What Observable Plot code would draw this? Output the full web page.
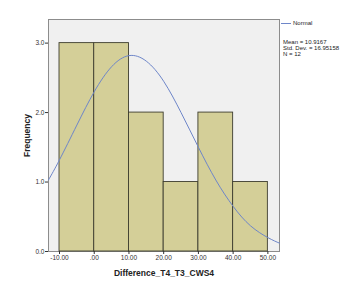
<!DOCTYPE html>
<html><head><meta charset="utf-8">
<script src="https://cdn.jsdelivr.net/npm/d3@7"></script>
<script src="https://cdn.jsdelivr.net/npm/@observablehq/plot@0.6"></script>
<style>
body{margin:0;background:#fff;font-family:"Liberation Sans",Arial,sans-serif;}
#wrap{position:relative;width:347px;height:282px;}
.lg{position:absolute;font-size:6px;color:#222;line-height:5.8px;white-space:nowrap;}
</style></head><body>
<div id="wrap"></div>
<script>
// Histogram bins and counts
const binStart = [-10, 0, 10, 20, 30, 40];
const binEnd   = [0, 10, 20, 30, 40, 50];
const counts   = [3, 3, 2, 1, 2, 1];
// Normal curve
const curveX = [-13.17, -10, -5, 0, 5, 10, 15, 20, 25, 30, 35, 40, 45, 50, 53.35];
const curveY = [1.03, 1.32, 1.82, 2.30, 2.66, 2.82, 2.74, 2.45, 2.00, 1.50, 1.03, 0.65, 0.37, 0.20, 0.12];
const xTicks = [-10, 0, 10, 20, 30, 40, 50];
const xTickLabels = ["-10.00", ".00", "10.00", "20.00", "30.00", "40.00", "50.00"];
const yTicks = [0, 1, 2, 3];
const yTickLabels = ["0.0", "1.0", "2.0", "3.0"];
const statsLines = ["Mean = 10.9167", "Std. Dev. = 16.95158", "N = 12"];

const bins = binStart.map((s, i) => ({x1: s, x2: binEnd[i], y: counts[i]}));
const curve = curveX.map((x, i) => ({x, y: curveY[i]}));

const plot = Plot.plot({
  width: 347, height: 282,
  marginLeft: 48, marginRight: 68, marginTop: 19, marginBottom: 31,
  style: {fontFamily: '"Liberation Sans", Arial, sans-serif', fontSize: "6.5px", background: "#fff", color: "#333"},
  x: {domain: [-13.17, 53.35]},
  y: {domain: [0, 3.34]},
  marks: [
    Plot.frame({fill: "#f0f0f0", stroke: "#8c8c8c"}),
    Plot.rectY(bins, {x1: "x1", x2: "x2", y: "y", fill: "#d4cf98", stroke: "#3d3d2f", strokeWidth: 0.9, inset: 0}),
    Plot.line(curve, {x: "x", y: "y", stroke: "#6e86c9", strokeWidth: 1, curve: "natural"}),
    Plot.axisY({ticks: yTicks, tickFormat: (d) => yTickLabels[yTicks.indexOf(d)], tickSize: 3, tickPadding: 1,
      label: "Frequency", labelAnchor: "center", labelArrow: "none", labelOffset: 25}),
    Plot.axisX({ticks: xTicks, tickFormat: (d) => xTickLabels[xTicks.indexOf(d)], tickSize: 3, tickPadding: 1,
      label: "Difference_T4_T3_CWS4", labelAnchor: "center", labelArrow: "none", labelOffset: 24})
  ]
});
document.getElementById("wrap").appendChild(plot);
d3.select(plot).selectAll("[aria-label='y-axis label'] text, [aria-label='x-axis label'] text")
  .style("font-size", "8.5px").style("font-weight", "bold").style("fill", "#222");

const wrap = document.getElementById("wrap");
const leg = document.createElement("div");
leg.className = "lg";
leg.style.left = "281px"; leg.style.top = "21px";
leg.innerHTML = '<span style="display:inline-block;width:10px;height:1px;background:#6e86c9;vertical-align:middle;margin-right:2px"></span>Normal';
wrap.appendChild(leg);
const st = document.createElement("div");
st.className = "lg";
st.style.left = "283px"; st.style.top = "40px";
st.innerHTML = statsLines.join("<br>");
wrap.appendChild(st);
</script>
</body></html>
